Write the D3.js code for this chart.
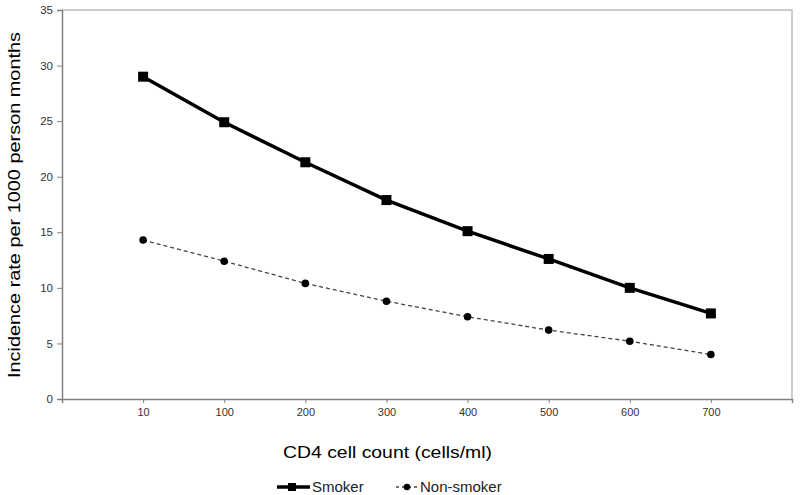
<!DOCTYPE html>
<html><head><meta charset="utf-8">
<script src="https://cdn.jsdelivr.net/npm/d3@7"></script>
<style>body{margin:0;background:#fff}svg{display:block}</style>
</head><body><svg id="c" width="800" height="495"></svg>
<script>
const categories = ["10","100","200","300","400","500","600","700"];
const smoker = [29.0, 24.9, 21.3, 17.9, 15.1, 12.6, 10.0, 7.7];
const nonSmoker = [14.3, 12.4, 10.4, 8.8, 7.4, 6.2, 5.2, 4.0];
const yTicks = [0,5,10,15,20,25,30,35];
const seriesNames = ["Smoker","Non-smoker"];

const svg = d3.select("#c");
const L = 62, R = 792, T = 10, B = 399;
const font = "Arial,'Liberation Sans',sans-serif";

// point scale with a blank slot on each side
const domain = ["_a", ...categories, "_b"];
const x = d3.scalePoint().domain(domain).range([L, R]);
const y = d3.scaleLinear().domain([0, 35]).range([B, T]);

// plot border
svg.append("path").attr("d", `M${L},${T}H${R}V${B}`).attr("fill","none").attr("stroke","#bdbdbd").attr("stroke-width",1.5);

const xAxis = svg.append("g").attr("transform", `translate(0,${B})`)
  .call(d3.axisBottom(x).tickSizeOuter(0).tickSize(4).tickFormat(d => d.startsWith("_") ? "" : d));
xAxis.select(".domain").attr("stroke","#808080").attr("stroke-width",1.5);
xAxis.selectAll(".tick line").attr("stroke","#808080");
xAxis.selectAll("text").attr("font-family", font).attr("font-size", 11).attr("fill","#333").attr("y",9);

const yAxis = svg.append("g").attr("transform", `translate(${L},0)`)
  .call(d3.axisLeft(y).tickValues(yTicks).tickSizeOuter(0).tickSize(5));
yAxis.select(".domain").attr("stroke","#808080").attr("stroke-width",1.5);
yAxis.selectAll(".tick line").attr("stroke","#808080");
yAxis.selectAll("text").attr("font-family", font).attr("font-size", 11.5).attr("fill","#333").attr("x",-9);

const line = d3.line().x((d,i) => x(categories[i])).y(d => y(d));

svg.append("path").datum(nonSmoker).attr("d", line).attr("fill","none")
  .attr("stroke","#444").attr("stroke-width",1.3).attr("stroke-dasharray","4,3");
svg.selectAll(".ns").data(nonSmoker).enter().append("circle")
  .attr("cx",(d,i)=>x(categories[i])).attr("cy",d=>y(d)).attr("r",3.8).attr("fill","#000");

svg.append("path").datum(smoker).attr("d", line).attr("fill","none")
  .attr("stroke","#000").attr("stroke-width",3.5);
svg.selectAll(".sm").data(smoker).enter().append("rect")
  .attr("x",(d,i)=>x(categories[i])-5).attr("y",d=>y(d)-5).attr("width",10).attr("height",10).attr("fill","#000");

// axis titles
svg.append("text").attr("x", 387.5).attr("y", 458).attr("text-anchor","middle")
  .attr("font-family",font).attr("font-size",16.5).attr("fill","#000")
  .attr("textLength",209).attr("lengthAdjust","spacingAndGlyphs")
  .text("CD4 cell count (cells/ml)");
svg.append("text").attr("transform","translate(20,205) rotate(-90)").attr("text-anchor","middle")
  .attr("font-family",font).attr("font-size",16.5).attr("fill","#000")
  .attr("textLength",346).attr("lengthAdjust","spacingAndGlyphs")
  .text("Incidence rate per 1000 person months");

// legend
const lg = svg.append("g");
lg.append("line").attr("x1",277).attr("x2",310).attr("y1",487).attr("y2",487).attr("stroke","#000").attr("stroke-width",3.5);
lg.append("rect").attr("x",288).attr("y",483).attr("width",8).attr("height",8).attr("fill","#000");
lg.append("text").attr("x",312).attr("y",492).attr("font-family",font).attr("font-size",15).attr("fill","#222").text(seriesNames[0]);
lg.append("line").attr("x1",396).attr("x2",417).attr("y1",487).attr("y2",487).attr("stroke","#444").attr("stroke-width",1.3).attr("stroke-dasharray","3,3");
lg.append("circle").attr("cx",407).attr("cy",487).attr("r",3.3).attr("fill","#000");
lg.append("text").attr("x",420).attr("y",492).attr("font-family",font).attr("font-size",15).attr("fill","#222").text(seriesNames[1]);
</script></body></html>
